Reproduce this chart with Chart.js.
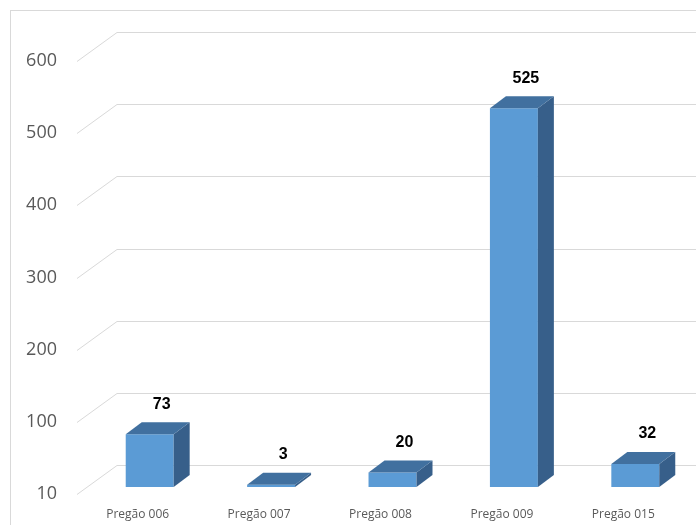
<!DOCTYPE html>
<html>
<head>
<meta charset="utf-8">
<script src="https://cdn.jsdelivr.net/npm/chart.js@4/dist/chart.umd.min.js"></script>
<style>
  html, body { margin: 0; padding: 0; background: #ffffff; }
  #wrap { width: 696px; height: 525px; }
</style>
</head>
<body>
<div id="wrap"><canvas id="c" width="696" height="525"></canvas></div>
<script>
// ---- data ----
const categories = ['Pregão 006', 'Pregão 007', 'Pregão 008', 'Pregão 009', 'Pregão 015'];
const values = [73, 3, 20, 525, 32];
const yTickValues = [0, 100, 200, 300, 400, 500, 600];
const yTickLabels = ['10', '100', '200', '300', '400', '500', '600'];

// ---- 3D look ----
const FRONT = '#5b9bd5', TOP = '#41709f', SIDE = '#375f8a';
const BAR_DX = 16, BAR_DY = -12;           // bar depth
const WALL_FRONT_DX = -12, WALL_FRONT_DY = 7;
const WALL_BACK_DX = 28, WALL_BACK_DY = -22;
const GRID = '#d9d9d9';

const frame = {
  id: 'frame',
  beforeDraw(chart) {
    const ctx = chart.ctx;
    ctx.save();
    ctx.fillStyle = '#ffffff';
    ctx.fillRect(0, 0, chart.width, chart.height);
    ctx.strokeStyle = '#d9d9d9';
    ctx.lineWidth = 1;
    ctx.strokeRect(10.5, 10.5, chart.width + 50, chart.height + 50);
    ctx.restore();
  }
};

const walls = {
  id: 'walls',
  beforeDatasetsDraw(chart) {
    const ctx = chart.ctx, y = chart.scales.y, a = chart.chartArea;
    ctx.save();
    ctx.strokeStyle = GRID;
    ctx.lineWidth = 1;
    yTickValues.forEach(v => {
      const py = y.getPixelForValue(v);
      ctx.beginPath();
      ctx.moveTo(a.left + WALL_FRONT_DX, Math.round(py + WALL_FRONT_DY) + 0.5);
      ctx.lineTo(a.left + WALL_BACK_DX, Math.round(py + WALL_BACK_DY) + 0.5);
      ctx.lineTo(chart.width + 5, Math.round(py + WALL_BACK_DY) + 0.5);
      ctx.stroke();
    });
    ctx.restore();
  }
};

const bars3d = {
  id: 'bars3d',
  afterDatasetsDraw(chart) {
    const ctx = chart.ctx;
    const meta = chart.getDatasetMeta(0);
    ctx.save();
    meta.data.forEach((bar, i) => {
      const p = bar.getProps(['x', 'y', 'base', 'width'], true);
      const l = p.x - p.width / 2, r = p.x + p.width / 2;
      // side
      ctx.fillStyle = SIDE;
      ctx.beginPath();
      ctx.moveTo(r, p.y);
      ctx.lineTo(r + BAR_DX, p.y + BAR_DY);
      ctx.lineTo(r + BAR_DX, p.base + BAR_DY);
      ctx.lineTo(r, p.base);
      ctx.closePath();
      ctx.fill();
      // top
      ctx.fillStyle = TOP;
      ctx.beginPath();
      ctx.moveTo(l, p.y);
      ctx.lineTo(r, p.y);
      ctx.lineTo(r + BAR_DX, p.y + BAR_DY);
      ctx.lineTo(l + BAR_DX, p.y + BAR_DY);
      ctx.closePath();
      ctx.fill();
      // label
      ctx.fillStyle = '#000000';
      ctx.font = 'bold 16px "Liberation Sans Narrow", "Liberation Sans", Arial, sans-serif';
      ctx.textAlign = 'center';
      ctx.textBaseline = 'middle';
      ctx.fillText(String(values[i]), p.x + 12, p.y - 30);
    });
    ctx.restore();
  }
};

new Chart(document.getElementById('c'), {
  type: 'bar',
  data: {
    labels: categories,
    datasets: [{
      data: values,
      backgroundColor: FRONT,
      borderWidth: 0,
      barPercentage: 1,
      categoryPercentage: 0.395
    }]
  },
  options: {
    responsive: false,
    animation: false,
    events: [],
    layout: { padding: { top: 54, left: 0, right: 0, bottom: 0 } },
    plugins: { legend: { display: false }, tooltip: { enabled: false } },
    scales: {
      x: {
        grid: { display: false, drawTicks: false },
        border: { display: false },
        ticks: {
          color: '#595959',
          font: { family: '"Open Sans", sans-serif', size: 12 },
          padding: 20,
          labelOffset: -12,
          maxRotation: 0,
          autoSkip: false
        },
        afterFit(s) { s.height = 38; s.paddingLeft = 0; s.paddingRight = 0; }
      },
      y: {
        min: 0,
        max: 600,
        grid: { display: false, drawTicks: false },
        border: { display: false },
        afterBuildTicks(s) { s.ticks = yTickValues.map(v => ({ value: v })); },
        ticks: {
          color: '#595959',
          font: { family: '"Open Sans", sans-serif', size: 18 },
          padding: 32,
          labelOffset: 7,
          callback: (v, i) => yTickLabels[i]
        },
        afterFit(s) { s.width = 89; s.paddingTop = 0; s.paddingBottom = 0; }
      }
    }
  },
  plugins: [frame, walls, bars3d]
});
</script>
</body>
</html>
